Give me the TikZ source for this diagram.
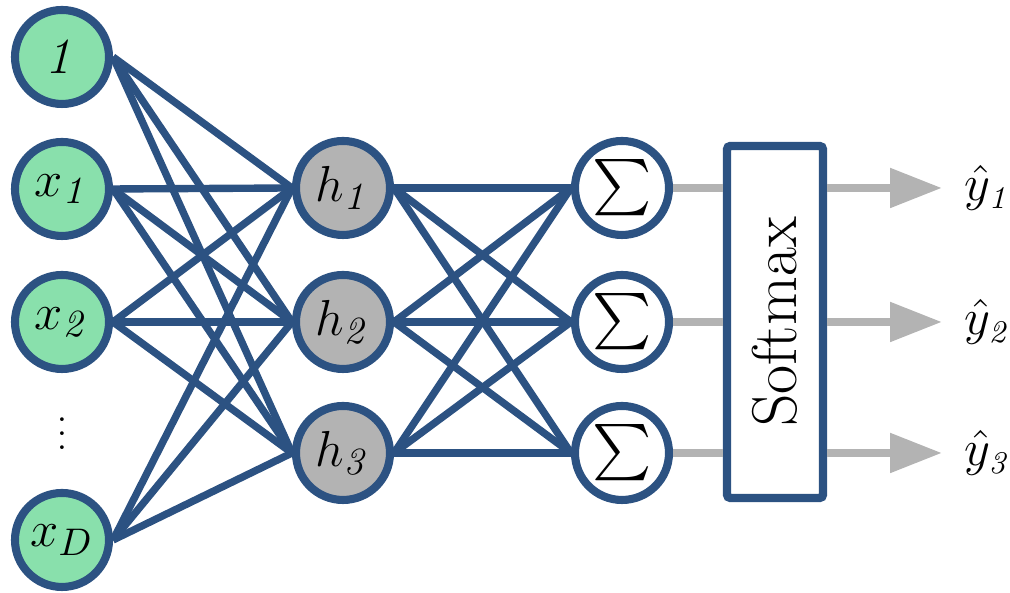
\documentclass[tikz,border=0pt]{standalone}
\usepackage{amsmath}
\usepackage{amssymb}
\usepackage{tikz}
\usetikzlibrary{arrows.meta,positioning,backgrounds}
\usepackage{xcolor}
\definecolor{netblue}{RGB}{44,82,130}
\definecolor{netgreen}{RGB}{137,224,172}
\definecolor{netgray}{RGB}{179,179,179}
\tikzstyle{neuron}=[circle, draw=netblue, line width=2.3pt, minimum size=0.94cm, inner sep=0pt, font=\fontsize{15}{18}\selectfont]
\tikzstyle{input}=[neuron, fill=netgreen]
\tikzstyle{hidden}=[neuron, fill=netgray]
\tikzstyle{summ}=[neuron, fill=white, font=\fontsize{16}{19}\selectfont]
\tikzstyle{weight}=[draw=netblue, line width=2.1pt]
\tikzstyle{flow}=[draw=netgray, line width=2.4pt]

\begin{document}
\begin{tikzpicture}
\useasboundingbox (0,0) rectangle (10.1,5.93);

% inputs
\node[input] (i0) at (0.62,5.36) {$\mathit{1}$};
\node[input] (i1) at (0.62,4.04) {$x_{\mathit{1}}$};
\node[input] (i2) at (0.62,2.71) {$x_{\mathit{2}}$};
\node (dots) at (0.62,1.70) {$\vdots$};
\node[input] (iD) at (0.62,0.53) {$x_D$};

% hidden
\foreach \k/\y in {1/4.05,2/2.71,3/1.40}
    \node[hidden] (h\k) at (3.43,\y) {$h_{\mathit{\k}}$};

% sums
\foreach \k/\y in {1/4.05,2/2.71,3/1.40}
    \node[summ] (s\k) at (6.22,\y) {$\sum$};

% softmax
\node[draw=netblue, line width=2.4pt, rounded corners=1pt, fill=white, minimum width=0.96cm, minimum height=3.52cm, inner sep=0pt] (soft) at (7.75,2.71) {\rotatebox{90}{\fontsize{18}{21}\selectfont Softmax}};

% outputs
\foreach \k/\y in {1/4.05,2/2.71,3/1.40}{
    \coordinate (t\k) at (9.42,\y);
    \node[right=0.22cm of t\k, inner sep=0pt, font=\fontsize{13.5}{16}\selectfont] (y\k) {$\hat{y}_{\mathit{\k}}$};
}

% weights
\begin{scope}[on background layer]
\foreach \a in {i0,i1,i2,iD}
    \foreach \b in {h1,h2,h3}
        \draw[weight] (\a.east) -- (\b.west);
\foreach \a in {h1,h2,h3}
    \foreach \b in {s1,s2,s3}
        \draw[weight] (\a.east) -- (\b.west);
\end{scope}

% arrows
\foreach \k in {1,2,3}{
    \draw[flow] (s\k.east) -- (s\k -| soft.west);
    \draw[flow, -{Triangle[length=5.2mm,width=3.8mm]}] (s\k -| soft.east) -- (t\k);
}

\end{tikzpicture}
\end{document}
